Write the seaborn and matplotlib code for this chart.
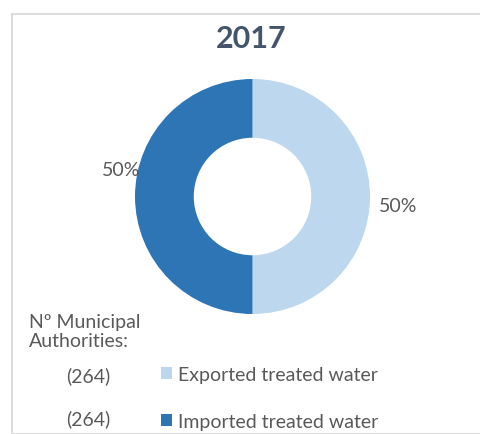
import matplotlib
matplotlib.use("Agg")
import matplotlib.pyplot as plt
from matplotlib.patches import Rectangle
import seaborn as sns

# Chart data
title = "2017"
categories = ["Exported treated water", "Imported treated water"]
shares = [50, 50]          # percent of municipal authorities
counts = [264, 264]        # number of municipal authorities
count_header = "Nº Municipal\nAuthorities:"

sns.set_theme(style="white")
plt.rcParams["font.family"] = ["Lato", "DejaVu Sans"]

colors = sns.color_palette(["#BDD7EE", "#2E75B6"])
text_grey = "#595959"
fs = 14

W, H = 480, 435
fig = plt.figure(figsize=(W / 100, H / 100), dpi=100)
ax = fig.add_axes([0, 0, 1, 1])

# Donut, drawn in a pixel-like coordinate frame (y measured from the bottom)
cx, cy, r = 252.5, H - 197.5, 117.5
wedges, _ = ax.pie(
    shares,
    colors=colors,
    startangle=90,
    counterclock=False,
    radius=r,
    center=(cx, cy),
    wedgeprops=dict(width=r * 0.5, linewidth=0),
)
ax.set_xlim(0, W)
ax.set_ylim(0, H)
ax.set_aspect("equal")
ax.axis("off")

# Percentage labels
label_pos = [(398, H - 207), (121, H - 170)]
for (x, y), s in zip(label_pos, shares):
    ax.text(x, y, f"{s}%", ha="center", va="center", fontsize=fs,
            color=text_grey)

# Title
ax.text(251, H - 39, title, ha="center", va="center", fontsize=22,
        fontweight="bold", color="#44546A")

# Frame around the chart area
fig.patches.append(Rectangle((12 / W, 0), 1, 1 - 15 / H, transform=fig.transFigure,
                             fill=False, edgecolor="#DCDCDC", linewidth=1.5))

# Count column
ax.text(29, H - 332, count_header, ha="left", va="center", fontsize=fs,
        color=text_grey, linespacing=1.2)
row_y = [H - 376, H - 419]
for y, c in zip(row_y, counts):
    ax.text(88, y, f"({c})", ha="center", va="center", fontsize=fs,
            color=text_grey)

# Legend
leg = ax.legend(wedges, categories, loc="upper left",
                bbox_to_anchor=(161 / W, (H - 367) / H),
                bbox_transform=fig.transFigure, frameon=False, fontsize=fs,
                handlelength=0.55, handleheight=0.55, handletextpad=0.35,
                labelspacing=1.55, borderpad=0, borderaxespad=0)
for t in leg.get_texts():
    t.set_color(text_grey)

fig.savefig("out.png", dpi=100, facecolor="white")
